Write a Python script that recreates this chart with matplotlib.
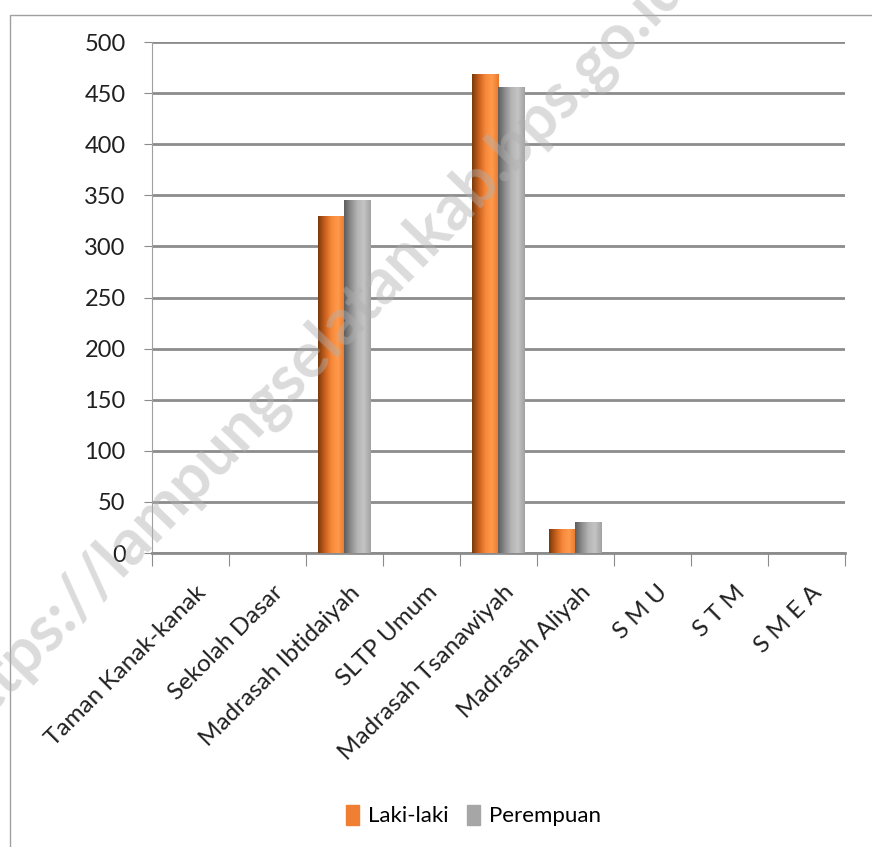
import matplotlib.pyplot as plt
import numpy as np
from matplotlib.colors import LinearSegmentedColormap

categories = ['Taman Kanak-kanak', 'Sekolah Dasar', 'Madrasah Ibtidaiyah', 'SLTP Umum',
              'Madrasah Tsanawiyah', 'Madrasah Aliyah', 'S M U', 'S T M', 'S M E A']
laki = [0, 0, 330, 0, 469, 24, 0, 0, 0]
perempuan = [0, 0, 345, 0, 456, 30, 0, 0, 0]
series = ['Laki-laki', 'Perempuan']
yticks = [0, 50, 100, 150, 200, 250, 300, 350, 400, 450, 500]

plt.rcParams['font.family'] = ['Lato', 'DejaVu Sans']

fig = plt.figure(figsize=(8.72, 8.47), dpi=100)
ax = fig.add_axes([0.1743, 0.347, 0.7947, 0.6034])

# thin frame around the chart area
fig.patches.append(plt.Rectangle((0.011, -0.01), 1.2, 1.002 - 0.01, transform=fig.transFigure,
                                 fill=False, edgecolor='#a0a0a0', linewidth=1))

x = np.arange(len(categories))
w = 0.35
orange_cm = LinearSegmentedColormap.from_list('o', ['#7a3a0c', '#c85f1c', '#f7883a', '#ff9a4d', '#e8792c'])
gray_cm = LinearSegmentedColormap.from_list('g', ['#5e5e5e', '#8c8c8c', '#b5b5b5', '#c4c4c4', '#a2a2a2'])
grad = np.linspace(0, 1, 64).reshape(1, -1)

for off, vals, cm, base in [(-w / 2, laki, orange_cm, '#f07f33'), (w / 2, perempuan, gray_cm, '#a6a6a6')]:
    bars = ax.bar(x + off, vals, width=w, color=base, zorder=3, linewidth=0)
    for b in bars:
        if b.get_height() <= 0:
            continue
        x0, y0 = b.get_x(), b.get_y()
        im = ax.imshow(grad, cmap=cm, aspect='auto', zorder=3.5,
                       extent=(x0, x0 + b.get_width(), y0, y0 + b.get_height()))
        im.set_clip_path(b)

ax.set_xlim(-0.5, len(categories) - 0.5)
ax.set_ylim(0, 500)

ax.set_yticks(yticks)
ax.set_yticklabels([str(v) for v in yticks], fontsize=17, color='#202020')
ax.yaxis.grid(True, color='#8c8c8c', linewidth=2, zorder=0)
ax.set_axisbelow(True)
ax.tick_params(axis='y', length=6, color='#8c8c8c', pad=13)

ax.set_xticks(np.arange(len(categories) + 1) - 0.5)
ax.set_xticklabels([])
ax.tick_params(axis='x', length=9, color='#8c8c8c', direction='out')
for i, c in enumerate(categories):
    ax.text(i + 0.06, -28, c, rotation=45, ha='right', va='top', rotation_mode='anchor',
            fontsize=17.5, color='#202020')

for s in ['top', 'right']:
    ax.spines[s].set_visible(False)
ax.spines['left'].set_color('#a0a0a0')
ax.spines['bottom'].set_color('#8c8c8c')
ax.spines['bottom'].set_linewidth(2)

handles = [plt.Rectangle((0, 0), 1, 1, color='#f07f33'), plt.Rectangle((0, 0), 1, 1, color='#a6a6a6')]
fig.legend(handles, series, loc='center', bbox_to_anchor=(0.543, 0.037), ncol=2, frameon=False,
           fontsize=16, handlelength=0.6, handleheight=1.0, columnspacing=0.8, handletextpad=0.4)

fig.text(0.360, 0.586, 'https://lampungselatankab.bps.go.id', rotation=46, ha='center', va='center',
         fontsize=46, fontweight='bold', color='#b0b0b0', alpha=0.45, zorder=10)

fig.savefig('out.png', dpi=100)
